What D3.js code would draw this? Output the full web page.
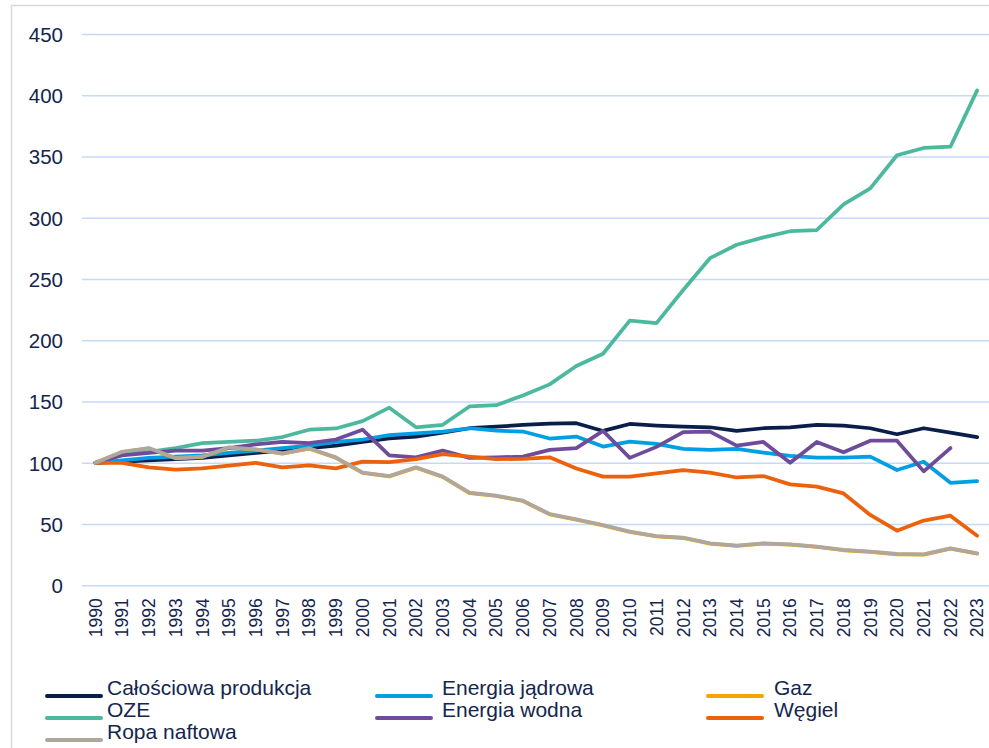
<!DOCTYPE html>
<html><head><meta charset="utf-8">
<script src="https://cdn.jsdelivr.net/npm/d3@7"></script>
<style>html,body{margin:0;padding:0;background:#fff;overflow:hidden}</style>
</head><body>
<svg id="c" width="989" height="748"></svg>
<script>
const years = d3.range(1990, 2024).map(String);
const yTicks = [0, 50, 100, 150, 200, 250, 300, 350, 400, 450];

const total   = [100,101,102,103,104,106,108,110,112,114,117,120, 121.4,124.6,128.2,129.5,130.9,132,132.3,126,131.7,130.4,129.5, 129,126,128.2,129,130.9,130.4,128.2,123.3,128.2,124.6,120.9];
const nuclear = [100,102,104,105,106,108,110,112,114,117,119,122.5, 124,125.5,128.2,126.3,125.5,119.8,121.4,113.2,117.3,115.4,111.3, 110.5,111.3,108.3,105.6,104.2,104.2,105,94.1,100.9,83.7,85.1];
const gas     = [100,108.7,111.7,103.7,104.7,112.3,110.7,107.4,111.5,104.1,91.7,88.9, 96,88.4,75.3,72.9,68.8,57.9,53.5,48.9,43.5,39.9,38.6, 34,32.1,34,33.2,31.3,28.6,27.2,25.3,25,29.9,25.8];
const oze     = [100,107,109,112,116,117,118,121,127,128,134,145, 129,131,146,147,155,164,179,189,216,214,241, 267,278,284,289,290,311,324,351,357,358,404];
const hydro   = [100,106,108,110,110,112,115,117,116,119,127,106, 104.5,110,104,104.5,105,110.5,112,126,104,113,125, 125.5,114,117,100,117,108.6,118,118,93,112,null];
const coal    = [100,100,96.3,94.5,95.4,97.6,100,96.3,97.9,95.4,101,100.5, 103,107,105,103,103.2,104.5,95.4,88.7,88.7,91.4,94, 92,88,89.2,82.4,80.5,75,57.4,44.6,52.8,56.8,40.5];
const oil     = [100,109,112,104,105,112.6,111,107.7,111.8,104.4,92,89.2, 96.3,88.7,75.6,73.2,69.1,58.2,53.8,49.2,43.8,40.2,38.9, 34.3,32.4,34.3,33.5,31.6,28.9,27.5,25.6,25.3,30.2,26.1];

const series = [
  {name: "Całościowa produkcja", values: total,   color: "#0b1e4a"},
  {name: "Energia jądrowa",      values: nuclear, color: "#009fe3"},
  {name: "Gaz",                  values: gas,     color: "#f5a300"},
  {name: "OZE",                  values: oze,     color: "#4cb99f"},
  {name: "Energia wodna",        values: hydro,   color: "#6f4c9b"},
  {name: "Węgiel",               values: coal,    color: "#ec610c"},
  {name: "Ropa naftowa",         values: oil,     color: "#b0a79c"}
];

const svg = d3.select("#c");
const textColor = "#14264d";
const font = "'Liberation Sans', Arial, sans-serif";

// outer frame
svg.append("rect").attr("x", 11.5).attr("y", 5.5).attr("width", 1000).attr("height", 800)
  .attr("fill", "none").attr("stroke", "#d9d9d9").attr("stroke-width", 1.5);

const pLeft = 82, pRight = 990.5, pTop = 34, pBottom = 585.3;
const x = d3.scaleBand().domain(years).range([pLeft, pRight]);
const y = d3.scaleLinear().domain([0, 450]).range([pBottom, pTop]);
const cx = d => x(d) + x.bandwidth() / 2;

// grid + y axis
const yAxis = d3.axisLeft(y).tickValues(yTicks).tickSize(-(pRight - pLeft)).tickPadding(19);
const gy = svg.append("g").attr("transform", `translate(${pLeft},0)`).call(yAxis);
gy.select(".domain").remove();
gy.selectAll(".tick line").attr("stroke", "#c6d9f8").attr("stroke-width", 1.6);
gy.selectAll(".tick text").attr("fill", textColor).attr("font-family", font).attr("font-size", 20.5)
  .attr("dy", "0.36em");

// x axis labels
const xAxis = d3.axisBottom(x).tickSize(0).tickPadding(0);
const gx = svg.append("g").attr("transform", `translate(0,${pBottom})`).call(xAxis);
gx.select(".domain").remove();
gx.selectAll(".tick text")
  .attr("fill", textColor).attr("font-family", font).attr("font-size", 17.5)
  .attr("text-anchor", "end")
  .attr("transform", "translate(0,13) rotate(-90)")
  .attr("x", 0).attr("y", 0).attr("dy", "0.36em");

// lines
const line = d3.line()
  .defined(d => d.v !== null)
  .x(d => cx(d.year))
  .y(d => y(d.v));

series.forEach(s => {
  const pts = years.map((yr, i) => ({year: yr, v: s.values[i]}));
  svg.append("path").datum(pts)
    .attr("d", line)
    .attr("fill", "none")
    .attr("stroke", s.color)
    .attr("stroke-width", 3.75)
    .attr("stroke-linejoin", "round")
    .attr("stroke-linecap", "round");
});

// legend
const legendCols = [47, 377, 708];
const legendRows = [696, 718, 740];
const lg = svg.append("g");
series.forEach((s, i) => {
  const col = i % 3, row = Math.floor(i / 3);
  const lx = legendCols[col], ly = legendRows[row];
  lg.append("line").attr("x1", lx).attr("x2", lx + 54).attr("y1", ly).attr("y2", ly)
    .attr("stroke", s.color).attr("stroke-width", 4).attr("stroke-linecap", "round");
  lg.append("text").attr("x", lx + 60 + (col === 1 ? 5 : 0) + (col === 2 ? 6 : 0)).attr("y", ly - 1)
    .attr("fill", textColor).attr("font-family", font).attr("font-size", 21)
    .text(s.name);
});
</script>
</body></html>
